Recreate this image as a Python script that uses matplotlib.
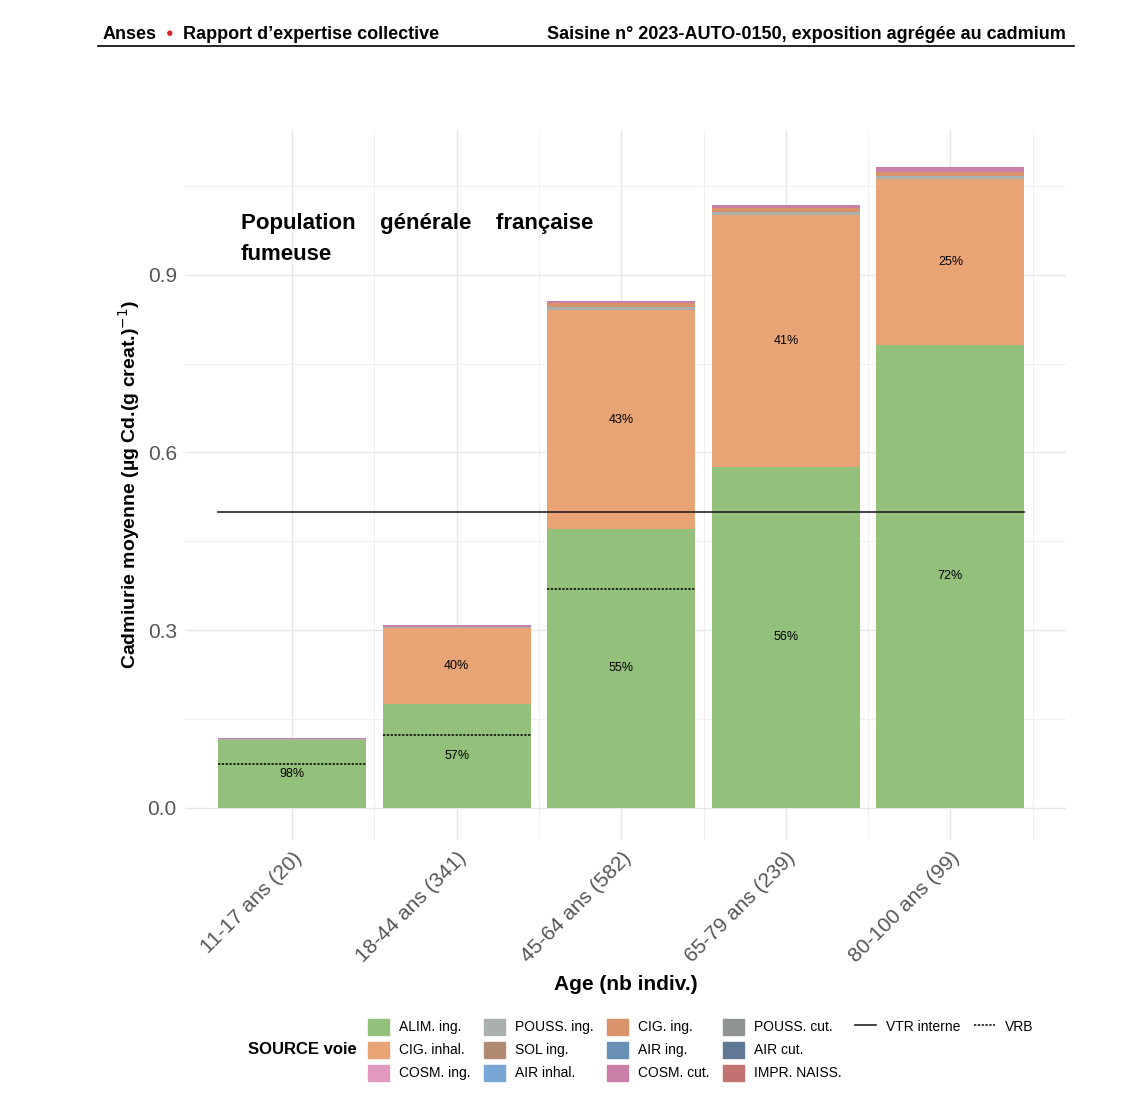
import numpy as np
import matplotlib.pyplot as plt
from matplotlib.patches import Patch
from matplotlib.lines import Line2D

plt.rcParams['font.family'] = ['Liberation Sans', 'DejaVu Sans']

ages = ['11-17 ans (20)', '18-44 ans (341)', '45-64 ans (582)', '65-79 ans (239)', '80-100 ans (99)']
alim_ing = [0.115, 0.176, 0.471, 0.576, 0.782]
cig_inhal = [0.000, 0.128, 0.369, 0.424, 0.279]
pouss_ing = [0.001, 0.001, 0.006, 0.006, 0.006]
cig_ing = [0.001, 0.001, 0.006, 0.007, 0.007]
cosm_cut = [0.001, 0.002, 0.004, 0.005, 0.008]
pct_alim = ['98%', '57%', '55%', '56%', '72%']
pct_cig = [None, '40%', '43%', '41%', '25%']
vrb = [0.074, 0.123, 0.370, None, None]
vtr = 0.5

colors = {
    'ALIM. ing.': '#93c07a', 'CIG. inhal.': '#e8a474', 'COSM. ing.': '#e29ac0',
    'POUSS. ing.': '#a9b0ae', 'SOL ing.': '#b08a72', 'AIR inhal.': '#7aa6d6',
    'CIG. ing.': '#d9936a', 'AIR ing.': '#6a8fb5', 'COSM. cut.': '#c97fa8',
    'POUSS. cut.': '#8e9290', 'AIR cut.': '#5e7895', 'IMPR. NAISS.': '#c0736f',
}

fig = plt.figure(figsize=(11.36, 10.98), dpi=100)
ax = fig.add_axes([0.163, 0.235, 0.775, 0.647])
x = np.arange(len(ages))
w = 0.9
bottom = np.zeros(len(ages))
for vals, name in [(alim_ing, 'ALIM. ing.'), (cig_inhal, 'CIG. inhal.'),
                   (pouss_ing, 'POUSS. ing.'), (cig_ing, 'CIG. ing.'),
                   (cosm_cut, 'COSM. cut.')]:
    ax.bar(x, vals, w, bottom=bottom, color=colors[name], zorder=2)
    bottom += np.array(vals)

for i in x:
    ax.text(i, alim_ing[i] / 2, pct_alim[i], ha='center', va='center', fontsize=9, zorder=3)
    if pct_cig[i]:
        ax.text(i, alim_ing[i] + cig_inhal[i] / 2, pct_cig[i], ha='center', va='center',
                fontsize=9, zorder=3)
    if vrb[i] is not None:
        ax.plot([i - w / 2, i + w / 2], [vrb[i], vrb[i]], color='black', ls=(0, (1.5, 1)),
                lw=1.1, zorder=3)
ax.plot([-w / 2, 4 + w / 2], [vtr, vtr], color='#222222', lw=1.2, zorder=3)

ax.set_xlim(-0.65, 4.7)
ax.set_ylim(-0.054, 1.145)
ax.set_yticks([0.0, 0.3, 0.6, 0.9])
ax.set_yticklabels(['0.0', '0.3', '0.6', '0.9'])
ax.set_yticks([0.15, 0.45, 0.75, 1.05], minor=True)
ax.set_xticks(x)
ax.set_xticklabels(ages, rotation=45, ha='right', rotation_mode='anchor')
ax.set_xticks(x + 0.5, minor=True)
ax.tick_params(which='both', length=0, labelsize=15, colors='#555555', pad=6)
ax.grid(which='major', color='#e6e6e6', lw=1, zorder=0)
ax.grid(which='minor', color='#f0f0f0', lw=0.8, zorder=0)
ax.set_axisbelow(True)
for s in ax.spines.values():
    s.set_visible(False)
ax.set_ylabel('Cadmiurie moyenne (µg Cd.(g creat.)$^{-1}$)', fontsize=14, weight='bold')
ax.set_xlabel('Age (nb indiv.)', fontsize=15, weight='bold', labelpad=6)

fig.text(0.212, 0.796, 'Population    générale    française', fontsize=16, weight='bold', va='center')
fig.text(0.212, 0.768, 'fumeuse', fontsize=16, weight='bold', va='center')

# header
fig.text(0.09, 0.969, 'Anses', fontsize=13, weight='bold', va='center')
fig.text(0.146, 0.969, '●', fontsize=9, color='#d62728', va='center')
fig.text(0.161, 0.969, 'Rapport d’expertise collective', fontsize=13, weight='bold', va='center')
fig.text(0.938, 0.969, 'Saisine n° 2023-AUTO-0150, exposition agrégée au cadmium', fontsize=13,
         weight='bold', va='center', ha='right')
fig.add_artist(Line2D([0.086, 0.945], [0.958, 0.958], color='black', lw=1.2))

order = ['ALIM. ing.', 'CIG. inhal.', 'COSM. ing.', 'POUSS. ing.', 'SOL ing.', 'AIR inhal.',
         'CIG. ing.', 'AIR ing.', 'COSM. cut.', 'POUSS. cut.', 'AIR cut.', 'IMPR. NAISS.']
handles = [Patch(color=colors[n]) for n in order]
labels = list(order)
blank = Line2D([], [], color='none')
handles += [Line2D([], [], color='#222222', lw=1.2), blank, blank,
            Line2D([], [], color='black', ls=(0, (1.5, 1)), lw=1.1), blank, blank]
labels += ['VTR interne', '', '', 'VRB', '', '']
fig.legend(handles, labels, ncol=6, loc='center left', bbox_to_anchor=(0.313, 0.044),
           frameon=False, fontsize=10, handlelength=1.5, handleheight=1.4,
           columnspacing=1.0, handletextpad=0.7, labelspacing=0.5)
fig.text(0.218, 0.044, 'SOURCE voie', fontsize=12, weight='bold', va='center')

fig.savefig('out.png', dpi=100)
